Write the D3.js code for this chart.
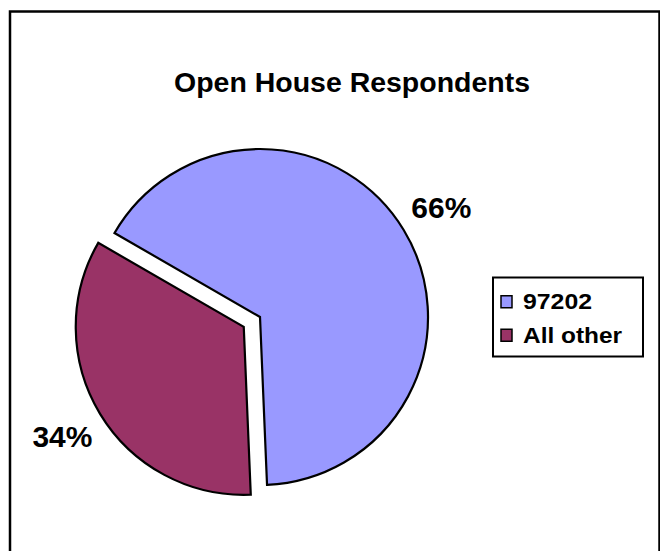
<html>
  <head>
    <script src="https://d3js.org/d3.v7.min.js"></script>
    <style>
      body { margin: 0; background: #fff; }
      text { font-family: "Liberation Sans", Arial, sans-serif; font-weight: bold; fill: #000; }
    </style>
  </head>
  <body>
    <svg class="chart"></svg>
  </body>
  <script>
  // chart data
  const categories = ['97202', 'All other'];
  const shares = [66, 34];
  const colors = ['#9999FF', '#993366'];
  const exploded = [false, true];
  const title = 'Open House Respondents';

  let width = 660, height = 551;
  let cx = 260, cy = 317, radius = 168;
  let explodeBy = 19;
  let labelRadius = 212;

  let svg = d3.select('.chart')
    .attr('width', width)
    .attr('height', height)
    .attr('viewBox', [0, 0, width, height]);

  // outer frame (bottom runs off the page)
  svg.append('rect')
    .attr('x', 10).attr('y', 11.5)
    .attr('width', 649.5).attr('height', 600)
    .attr('fill', 'none')
    .attr('stroke', '#000')
    .attr('stroke-width', 2.5);

  svg.append('text')
    .attr('x', 174).attr('y', 92)
    .attr('font-size', 28)
    .attr('textLength', 356)
    .attr('lengthAdjust', 'spacingAndGlyphs')
    .text(title);

  let deg = Math.PI / 180;
  let pie = d3.pie()
    .sort(null)
    .startAngle(-60 * deg)
    .endAngle(300 * deg);
  let slices = pie(shares);

  let arc = d3.arc().innerRadius(0).outerRadius(radius);
  let labelArc = d3.arc().innerRadius(labelRadius).outerRadius(labelRadius);

  function offset(d, i){
    if(!exploded[i]) return [0, 0];
    let mid = (d.startAngle + d.endAngle) / 2;
    return [explodeBy * Math.sin(mid), -explodeBy * Math.cos(mid)];
  }

  let g = svg.append('g').attr('transform', `translate(${cx},${cy})`);

  g.selectAll('path')
    .data(slices)
    .join('path')
      .attr('transform', (d, i) => `translate(${offset(d, i)})`)
      .attr('d', arc)
      .attr('fill', (d, i) => colors[i])
      .attr('stroke', '#000')
      .attr('stroke-width', 2.2)
      .attr('stroke-linejoin', 'miter');

  g.selectAll('text.pct')
    .data(slices)
    .join('text')
      .attr('class', 'pct')
      .attr('transform', (d, i) => {
        let c = labelArc.centroid(d), o = offset(d, i);
        return `translate(${c[0] + o[0]},${c[1] + o[1] + 10.5})`;
      })
      .attr('text-anchor', 'middle')
      .attr('font-size', 29)
      .attr('textLength', 60)
      .attr('lengthAdjust', 'spacingAndGlyphs')
      .text(d => d.data + '%');

  // legend
  let legend = svg.append('g');
  legend.append('rect')
    .attr('x', 493).attr('y', 277.5)
    .attr('width', 150).attr('height', 79)
    .attr('fill', '#fff')
    .attr('stroke', '#000')
    .attr('stroke-width', 2);

  let ly = d3.scaleBand().domain(categories).range([285, 352]);
  let widths = {'97202': 69, 'All other': 99};

  let items = legend.selectAll('g.item')
    .data(categories)
    .join('g')
      .attr('class', 'item')
      .attr('transform', d => `translate(0,${ly(d) + ly.bandwidth() / 2})`);

  items.append('rect')
    .attr('x', 501).attr('y', -6)
    .attr('width', 11).attr('height', 12)
    .attr('fill', (d, i) => colors[i])
    .attr('stroke', '#000')
    .attr('stroke-width', 1.5);

  items.append('text')
    .attr('x', 523).attr('y', 7.5)
    .attr('font-size', 22)
    .attr('textLength', d => widths[d])
    .attr('lengthAdjust', 'spacingAndGlyphs')
    .text(d => d);
  </script>
</html>
